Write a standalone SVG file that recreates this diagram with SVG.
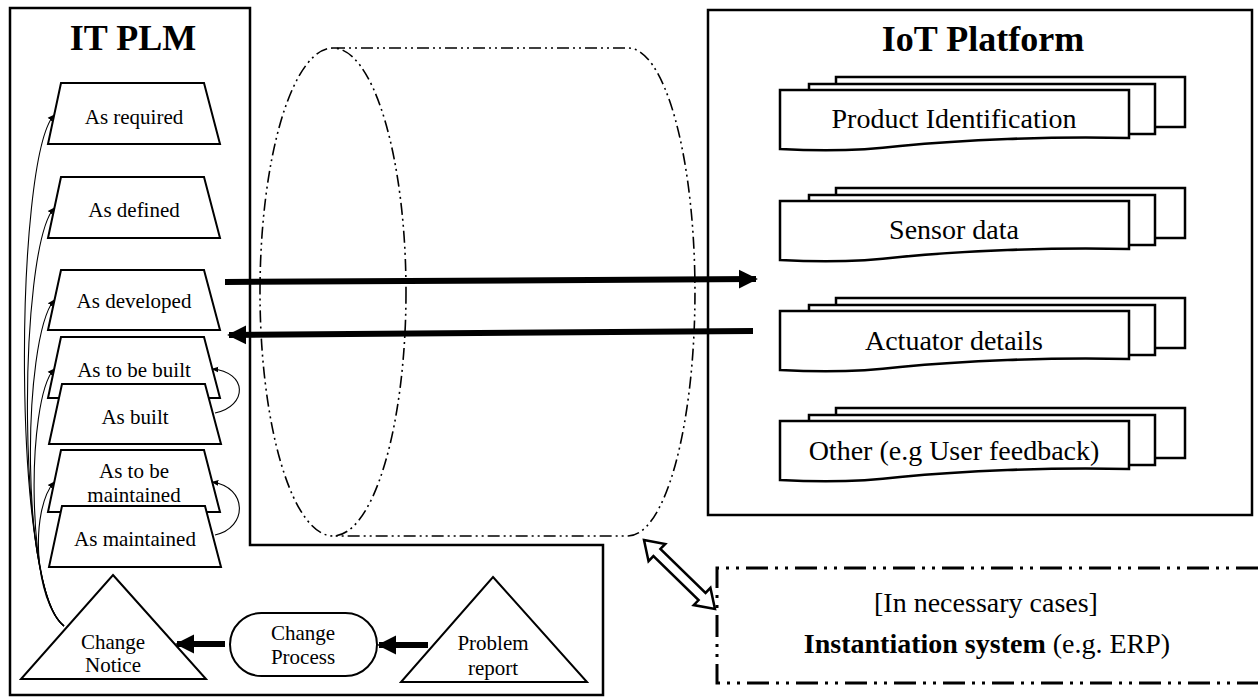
<svg xmlns="http://www.w3.org/2000/svg" width="1258" height="700" viewBox="0 0 1258 700">
<style>
text{font-family:"Liberation Serif","Times New Roman",serif;fill:#000;text-anchor:middle}
.t21{font-size:21px}
.t28{font-size:28px}
.title{font-size:36px;font-weight:bold}
.frame{fill:none;stroke:#000;stroke-width:2.5}
.trap{fill:#fff;stroke:#000;stroke-width:2}
.doc{fill:#fff;stroke:#000;stroke-width:2.5}
.cyl{fill:none;stroke:#000;stroke-width:1.6;stroke-dasharray:12 4 2 4 2 4}
.dbox{fill:none;stroke:#000;stroke-width:3;stroke-dasharray:22 7 3 7 3 7}
.thin{fill:none;stroke:#000;stroke-width:1.1}
.thick{fill:none;stroke:#000;stroke-width:6}
</style>
<defs>
<marker id="sm" viewBox="0 0 10 10" refX="9" refY="5" markerWidth="7" markerHeight="7" markerUnits="userSpaceOnUse" orient="auto">
<path d="M0,1 L10,5 L0,9 Z" fill="#000"/>
</marker>
<marker id="big" viewBox="0 0 10 10" refX="9" refY="5" markerWidth="19" markerHeight="20" markerUnits="userSpaceOnUse" orient="auto">
<path d="M0,0 L10,5 L0,10 Z" fill="#000"/>
</marker>
</defs>

<g id="it-plm">
<path class="frame" d="M10,8 H250 V545 H603 V695 H10 Z"/>
<text class="title" x="133" y="50">IT PLM</text>
</g>

<g id="iot-platform">
<rect class="frame" x="708" y="10" width="544" height="505"/>
<text class="title" x="983" y="51">IoT Platform</text>
</g>

<g id="cylinder">
<path class="cyl" d="M333,48 H628 A67,244 0 0 1 628,536 H333"/>
<ellipse class="cyl" cx="333" cy="292" rx="73" ry="244"/>
</g>

<g id="as-required">
<path class="trap" d="M61,83 H204 L220,144 H48 Z"/>
<text class="t21" x="134" y="124">As required</text>
</g>
<g id="as-defined">
<path class="trap" d="M61,177 H204 L220,238 H48 Z"/>
<text class="t21" x="134" y="217">As defined</text>
</g>
<g id="as-developed">
<path class="trap" d="M61,270 H204 L220,330 H48 Z"/>
<text class="t21" x="134" y="308">As developed</text>
</g>
<g id="as-to-be-built">
<path class="trap" d="M61,337 H204 L220,398 H48 Z"/>
<text class="t21" x="134" y="377">As to be built</text>
</g>
<g id="as-built">
<path class="trap" d="M62,384 H205 L221,444 H49 Z"/>
<text class="t21" x="135" y="424">As built</text>
</g>
<g id="as-to-be-maintained">
<path class="trap" d="M61,450 H204 L220,512 H48 Z"/>
<text class="t21" x="134" y="478">As to be</text>
<text class="t21" x="134" y="502">maintained</text>
</g>
<g id="as-maintained">
<path class="trap" d="M62,506 H205 L221,567 H49 Z"/>
<text class="t21" x="135" y="546">As maintained</text>
</g>

<g id="change-notice">
<path class="trap" d="M113,575 L206,679 H21 Z"/>
<text class="t21" x="113" y="649">Change</text>
<text class="t21" x="113" y="672">Notice</text>
</g>
<g id="change-process">
<rect class="trap" x="230" y="613" width="147" height="63" rx="31.5"/>
<text class="t21" x="303" y="640">Change</text>
<text class="t21" x="303" y="664">Process</text>
</g>
<g id="problem-report">
<path class="trap" d="M493,577 L587,682 H401 Z"/>
<text class="t21" x="493" y="650">Problem</text>
<text class="t21" x="493" y="675">report</text>
</g>

<g id="product-identification">
<rect class="doc" x="836" y="77" width="349" height="50"/>
<rect class="doc" x="809" y="84" width="346" height="50"/>
<path class="doc" d="M780,90 H1129 V138 C1050,136 960,140 900,146 C860,151 820,151 780,149 Z"/>
<text class="t28" x="954" y="128">Product Identification</text>
</g>
<g id="sensor-data">
<rect class="doc" x="836" y="188" width="349" height="50"/>
<rect class="doc" x="809" y="195" width="346" height="50"/>
<path class="doc" d="M780,201 H1129 V249 C1050,247 960,251 900,257 C860,262 820,262 780,260 Z"/>
<text class="t28" x="954" y="239">Sensor data</text>
</g>
<g id="actuator-details">
<rect class="doc" x="836" y="298" width="349" height="50"/>
<rect class="doc" x="809" y="305" width="346" height="50"/>
<path class="doc" d="M780,311 H1129 V359 C1050,357 960,361 900,367 C860,372 820,372 780,370 Z"/>
<text class="t28" x="954" y="350">Actuator details</text>
</g>
<g id="other">
<rect class="doc" x="836" y="408" width="349" height="50"/>
<rect class="doc" x="809" y="415" width="346" height="50"/>
<path class="doc" d="M780,421 H1129 V469 C1050,467 960,471 900,477 C860,482 820,482 780,480 Z"/>
<text class="t28" x="954" y="460">Other (e.g User feedback)</text>
</g>

<g id="instantiation-system">
<path class="dbox" d="M1258,568 H717 V683 H1258"/>
<text class="t28" x="986" y="612">[In necessary cases]</text>
<text class="t28" x="987" y="653"><tspan font-weight="bold">Instantiation system</tspan> (e.g. ERP)</text>
</g>

<g id="connectors">
<path class="thin" marker-end="url(#sm)" d="M64,626 C12,590 14,160 54,115"/>
<path class="thin" marker-end="url(#sm)" d="M64,626 C16,590 18,250 54,208"/>
<path class="thin" marker-end="url(#sm)" d="M64,626 C20,590 22,340 54,300"/>
<path class="thin" marker-end="url(#sm)" d="M64,626 C26,600 26,400 54,369"/>
<path class="thin" marker-end="url(#sm)" d="M64,626 C34,600 30,510 54,482"/>
<path class="thin" marker-end="url(#sm)" d="M215,413 C248,406 248,372 212,369"/>
<path class="thin" marker-end="url(#sm)" d="M215,535 C248,528 248,487 212,482"/>
<path class="thick" marker-end="url(#big)" d="M225,282 L756,279"/>
<path class="thick" marker-end="url(#big)" d="M753,331 L229,335"/>
<path class="thick" marker-end="url(#big)" d="M428,645 L379,645"/>
<path class="thick" marker-end="url(#big)" d="M225,644 L177,644"/>
<polygon transform="translate(644,540) rotate(44.2)" points="0,0 18,-12 18,-5 81,-5 81,-12 99,0 81,12 81,5 18,5 18,12" fill="#fff" stroke="#000" stroke-width="2.5" stroke-linejoin="miter"/>
</g>
</svg>
